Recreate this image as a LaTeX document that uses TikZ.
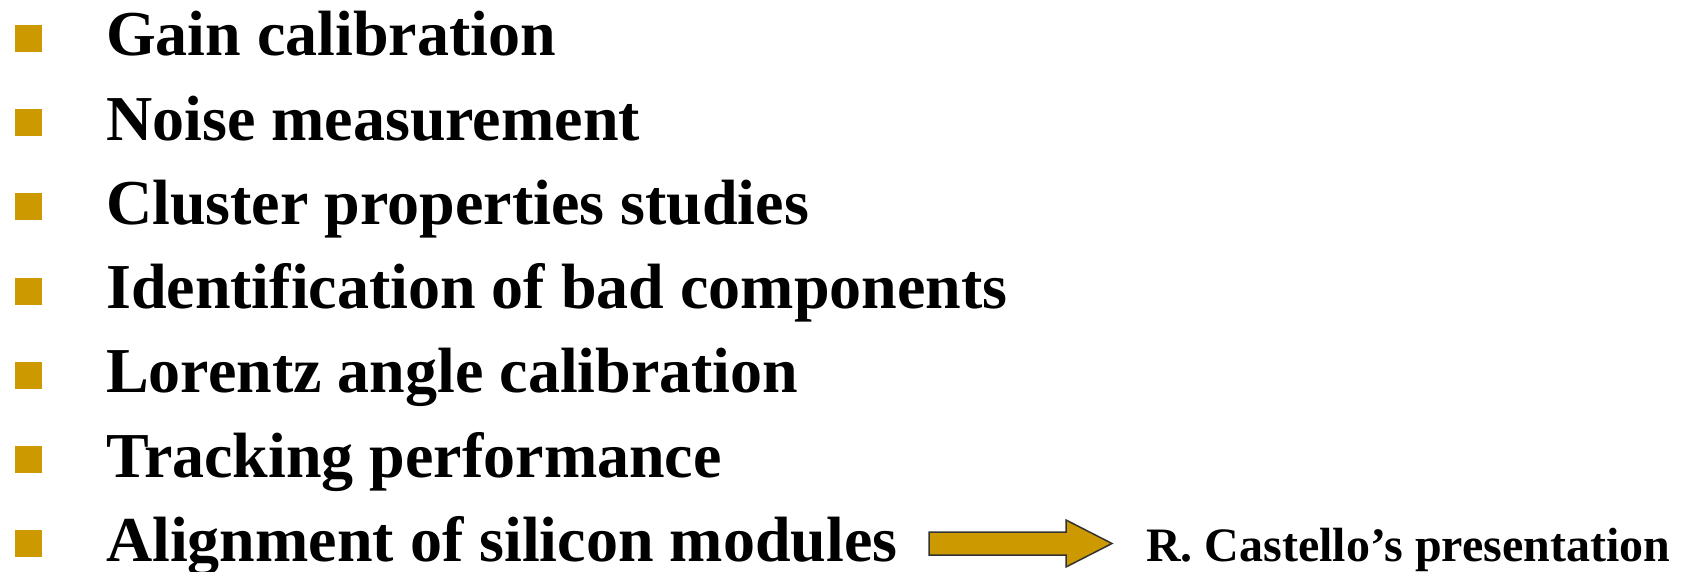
\documentclass[tikz,border=0pt]{standalone}
\usepackage{fontspec}
\setmainfont{Liberation Serif}
\usetikzlibrary{positioning}
\definecolor{gold}{HTML}{CC9900}
\definecolor{rim}{HTML}{333333}

\begin{document}
\begin{tikzpicture}[x=1pt, y=1pt,
  bullet/.style={fill=gold, minimum size=27pt, inner sep=0pt},
  item/.style={anchor=base west, inner sep=0pt, font=\fontsize{64}{70}\selectfont\bfseries},
  note/.style={anchor=base west, inner sep=0pt, font=\fontsize{48}{52}\selectfont\bfseries},
  blockarrow/.style={fill=gold, draw=rim, line width=1.5pt, line join=miter}
]
\useasboundingbox (0,0) rectangle (1691,571);

% Bullets and items
\foreach \txt [count=\i] in {Gain calibration, Noise measurement,
    Cluster properties studies, Identification of bad components,
    Lorentz angle calibration, Tracking performance,
    Alignment of silicon modules}{
  \node[item] (item\i) at (106, {515-84.2*(\i-1)}) {\txt};
  \node[bullet] (bul\i) at (28.5, {532.5-84.2*(\i-1)}) {};
}

% Pointer to talk
\node[note] (castello) at (1146,10) {R. Castello’s presentation};
\draw[blockarrow] (929,16) -- (1066,16) -- (1066,4) -- (1112,27.5)
  -- (1066,51) -- (1066,39) -- (929,39) -- cycle;

\end{tikzpicture}
\end{document}
